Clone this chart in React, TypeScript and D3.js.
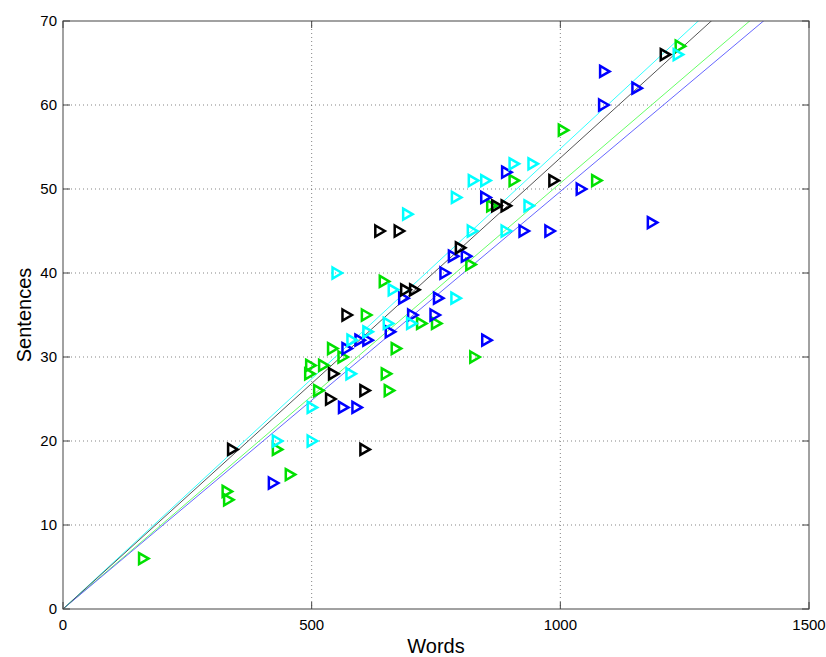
import * as d3 from "d3";

// [words, sentences]
const blackPts = [
  [340, 19], [636, 45], [675, 45], [570, 35], [543, 28], [537, 25], [606, 26], [606, 19],
  [688, 38], [706, 38], [798, 43], [871, 48], [890, 48], [986, 51], [1210, 66],
];
const bluePts = [
  [422, 15], [563, 24], [590, 24], [570, 31], [596, 32], [612, 32], [657, 33], [684, 37],
  [702, 35], [747, 35], [754, 37], [767, 40], [784, 42], [810, 42], [851, 32], [849, 49],
  [891, 52], [926, 45], [978, 45], [1041, 50], [1184, 46], [1086, 60], [1153, 62], [1088, 64],
];
const cyanPts = [
  [430, 20], [500, 20], [500, 24], [550, 40], [578, 28], [580, 32], [612, 33], [653, 34],
  [663, 38], [692, 47], [700, 34], [789, 37], [790, 49], [822, 45], [824, 51], [849, 51],
  [890, 45], [906, 53], [936, 48], [944, 53], [1236, 66],
];
const greenPts = [
  [161, 6], [329, 14], [332, 13], [430, 19], [456, 16], [495, 28], [497, 29], [513, 26],
  [523, 29], [541, 31], [562, 30], [609, 35], [645, 39], [649, 28], [655, 26], [669, 31],
  [720, 34], [750, 34], [819, 41], [827, 30], [861, 48], [906, 51], [1005, 57], [1072, 51],
  [1240, 67],
];

// fitted slopes (sentences per word), lines through origin
const slopes = { black: 0.0537, blue: 0.0497, cyan: 0.0548, green: 0.0507 };

const xTicks = [0, 500, 1000, 1500];
const yTicks = [0, 10, 20, 30, 40, 50, 60, 70];

const W = 826;
const H = 657;
const margin = { left: 63, right: 17, top: 21, bottom: 48 };

const series = [
  { name: "green", pts: greenPts, color: "#00e000", line: "#66ff66", slope: slopes.green },
  { name: "blue", pts: bluePts, color: "#0000ff", line: "#6666ff", slope: slopes.blue },
  { name: "cyan", pts: cyanPts, color: "#00ffff", line: "#33ffff", slope: slopes.cyan },
  { name: "black", pts: blackPts, color: "#000000", line: "#555555", slope: slopes.black },
];

export default function App() {
  const x = d3.scaleLinear().domain([0, 1500]).range([margin.left, W - margin.right]);
  const y = d3.scaleLinear().domain([0, 70]).range([H - margin.bottom, margin.top]);
  const [x0, x1] = x.range();
  const [y0, y1] = y.range();
  const font = "'Liberation Sans', Arial, sans-serif";
  const tick = 7;

  // right-pointing triangle marker
  const tri = (cx: number, cy: number) =>
    `M${cx - 4},${cy - 5.5}L${cx + 5.5},${cy}L${cx - 4},${cy + 5.5}Z`;

  const fitLine = d3
    .line<number[]>()
    .x((d) => x(d[0]))
    .y((d) => y(d[1]));

  return (
    <svg width={W} height={H} style={{ position: "absolute", left: 0, top: 0, background: "#fff" }}>
      <defs>
        <clipPath id="plotClip">
          <rect x={x0} y={y1} width={x1 - x0} height={y0 - y1} />
        </clipPath>
      </defs>

      {/* grid */}
      <g stroke="#333" strokeWidth={0.6} strokeDasharray="1,3">
        {xTicks.slice(1, -1).map((t) => (
          <line key={"gx" + t} x1={x(t)} x2={x(t)} y1={y1} y2={y0} />
        ))}
        {yTicks.slice(1, -1).map((t) => (
          <line key={"gy" + t} x1={x0} x2={x1} y1={y(t)} y2={y(t)} />
        ))}
      </g>

      {/* fit lines */}
      <g clipPath="url(#plotClip)" fill="none">
        {series.map((s) => (
          <path
            key={"l" + s.name}
            d={fitLine([[0, 0], [1500, 1500 * s.slope]]) || ""}
            stroke={s.line}
            strokeWidth={1}
          />
        ))}
      </g>

      {/* markers */}
      {series.map((s) => (
        <g key={"m" + s.name} fill="none" stroke={s.color} strokeWidth={2.5} strokeLinejoin="miter">
          {s.pts.map((p, i) => (
            <path key={i} d={tri(x(p[0]), y(p[1]))} />
          ))}
        </g>
      ))}

      {/* box + ticks */}
      <rect x={x0} y={y1} width={x1 - x0} height={y0 - y1} fill="none" stroke="#444" strokeWidth={1} />
      <g stroke="#444" strokeWidth={1}>
        {xTicks.map((t) => (
          <g key={"tx" + t}>
            <line x1={x(t)} x2={x(t)} y1={y0} y2={y0 - tick} />
            <line x1={x(t)} x2={x(t)} y1={y1} y2={y1 + tick} />
          </g>
        ))}
        {yTicks.map((t) => (
          <g key={"ty" + t}>
            <line x1={x0} x2={x0 + tick} y1={y(t)} y2={y(t)} />
            <line x1={x1} x2={x1 - tick} y1={y(t)} y2={y(t)} />
          </g>
        ))}
      </g>

      {/* tick labels */}
      <g fontFamily={font} fontSize={15} fill="#000">
        {xTicks.map((t) => (
          <text key={"lx" + t} x={x(t)} y={y0 + 21} textAnchor="middle">
            {t}
          </text>
        ))}
        {yTicks.map((t) => (
          <text key={"ly" + t} x={x0 - 6} y={y(t) + 5} textAnchor="end">
            {t}
          </text>
        ))}
      </g>

      {/* axis titles */}
      <text x={(x0 + x1) / 2} y={653} textAnchor="middle" fontFamily={font} fontSize={20}>
        Words
      </text>
      <text
        transform={`translate(31,${(y0 + y1) / 2}) rotate(-90)`}
        textAnchor="middle"
        fontFamily={font}
        fontSize={20}
      >
        Sentences
      </text>
    </svg>
  );
}
